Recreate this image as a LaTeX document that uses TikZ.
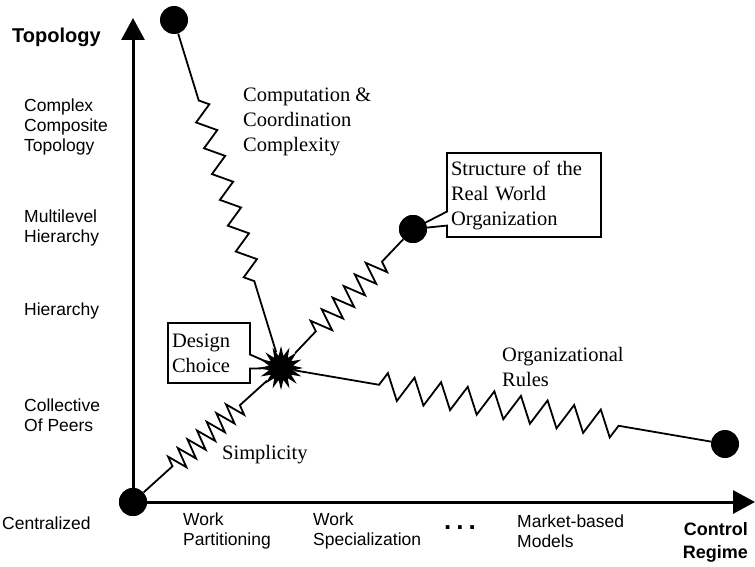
\documentclass[tikz,border=0pt]{standalone}
\usepackage{fontspec}
\setmainfont{Liberation Serif}
\setsansfont{Liberation Sans}
\usetikzlibrary{arrows.meta,shapes.geometric,shapes.callouts,decorations.pathmorphing}

\tikzset{
  axis/.style={line width=3pt, -{Triangle[length=22pt,width=23pt]}},
  dot/.style={circle, fill, inner sep=0pt, minimum size=28pt},
  spring/.style={line width=1.8pt, decorate, decoration={zigzag, #1}},
  axislabel/.style={font=\sffamily\fontsize{17.5}{20}\selectfont, align=left, anchor=west, inner sep=0pt},
  axisname/.style={font=\sffamily\bfseries\fontsize{18}{23}\selectfont, inner sep=0pt},
  springlabel/.style={font=\fontsize{20.5}{25}\selectfont, align=left, anchor=west, inner sep=0pt},
  callbox/.style={rectangle callout, draw, line width=1.8pt, fill=white, align=left,
    font=\fontsize{20.5}{25}\selectfont, inner sep=4pt, callout pointer width=14pt}
}

\begin{document}
\begin{tikzpicture}[x=1pt,y=-1pt]
  \useasboundingbox (0,0) rectangle (755,567);
  % points of the diagram
  \coordinate (choice) at (281,368);
  \coordinate (ytip) at (133,18);
  \coordinate (xtip) at (755,502);
  \node[dot] (origin) at (133,502) {};
  \node[dot] (top) at (174,20) {};
  \node[dot] (real) at (413,229) {};
  \node[dot] (rules) at (725,444) {};
  % axes
  \draw[axis] (origin.center) -- (ytip);
  \draw[axis] (origin.center) -- (xtip);
  % callout boxes
  \node[callbox, text width=74pt, minimum height=60pt, callout absolute pointer={(choice)}]
    (choicebox) at (209,353) {Design\\Choice};
  \node[callbox, text width=146pt, minimum height=84pt, callout absolute pointer={(real)}]
    (realbox) at (524,195) {Structure of the\\Real World\\Organization};
  % design choice burst
  \node[star, star points=16, star point ratio=1.8, fill, minimum size=44pt, inner sep=0pt]
    (star) at (choice) {};
  \node[dot] at (real) {};
  \node[dot] at (origin) {};
  % springs
  \draw[spring={amplitude=9pt, segment length=27pt, pre length=70pt, post length=72pt}] (top) -- (star);
  \draw[spring={amplitude=11pt, segment length=16pt, pre length=30pt, post length=28pt}] (star) -- (real);
  \draw[spring={amplitude=10pt, segment length=13pt, pre length=39pt, post length=34pt}] (origin) -- (star);
  \draw[spring={amplitude=13pt, segment length=27pt, pre length=86pt, post length=93pt}] (star) -- (rules);
  % spring labels
  \node[springlabel] (complexity) at (243,122) {Computation \&\\Coordination\\Complexity};
  \node[springlabel] (orgrules) at (502,367) {Organizational\\Rules};
  \node[springlabel] (simple) at (222,455) {Simplicity};
  % topology axis
  \node[axisname, font=\sffamily\bfseries\fontsize{20}{24}\selectfont, anchor=west] (topology) at (12,37) {Topology};
  \node[axislabel] (complex) at (24,127) {Complex\\Composite\\Topology};
  \node[axislabel] (multi) at (24,228) {Multilevel\\Hierarchy};
  \node[axislabel] (hier) at (24,311) {Hierarchy};
  \node[axislabel] (peers) at (24,415) {Collective\\Of Peers};
  \node[axislabel] (central) at (2,523) {Centralized};
  % control regime axis
  \node[axislabel] (partition) at (183,531) {Work\\Partitioning};
  \node[axislabel] (special) at (313,531) {Work\\Specialization};
  \node[axislabel, font=\sffamily\bfseries\fontsize{26}{26}\selectfont] (more) at (444,528) {.\hspace{5pt}.\hspace{5pt}.};
  \node[axislabel] (market) at (517,531) {Market-based\\Models};
  \node[axisname, align=right, anchor=east] (control) at (748,542) {Control\\Regime};
\end{tikzpicture}
\end{document}
